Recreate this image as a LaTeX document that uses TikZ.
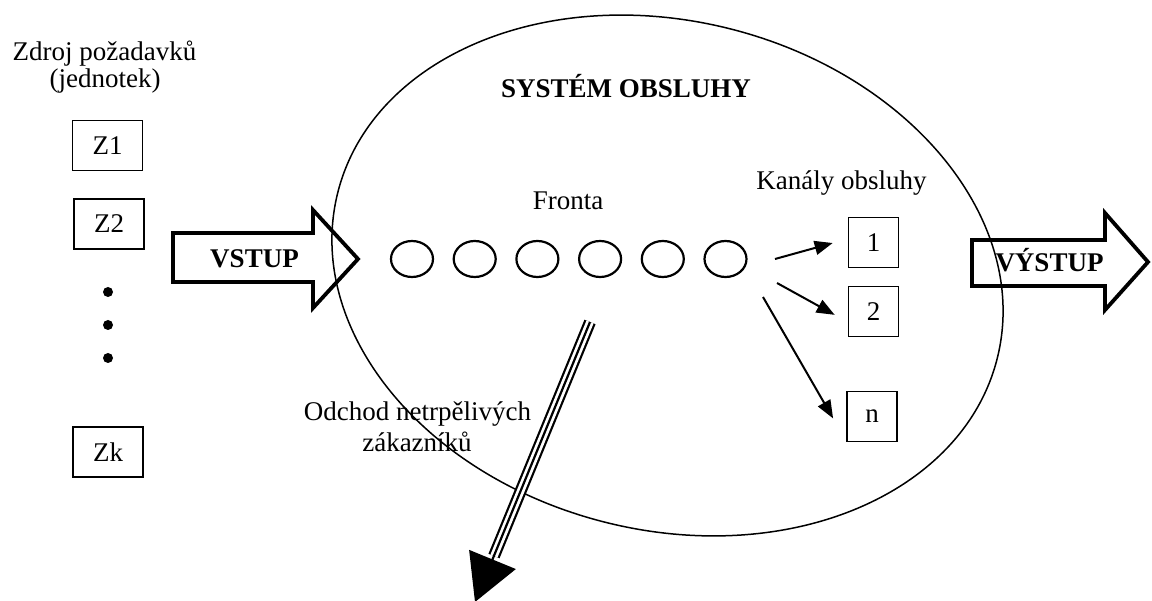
\documentclass[tikz,border=0pt]{standalone}
\usepackage{fontspec}
\setmainfont{Liberation Serif}
\usetikzlibrary{arrows.meta,shapes.geometric}

\begin{document}
\begin{tikzpicture}[x=1pt,y=-1pt,
  txt/.style={font=\fontsize{27}{32}\selectfont, inner sep=0pt, anchor=base},
  boldtxt/.style={font=\fontsize{27}{32}\selectfont\bfseries, inner sep=0pt, anchor=base},
  srcbox/.style={draw, line width=1.8pt, minimum width=70pt, minimum height=50pt,
    inner sep=0pt, font=\fontsize{27}{32}\selectfont},
  chanbox/.style={draw, line width=1.8pt, minimum width=50pt, minimum height=50pt,
    inner sep=0pt, font=\fontsize{27}{32}\selectfont},
  unit/.style={draw, ellipse, line width=2.2pt, minimum width=42pt, minimum height=36pt, inner sep=0pt},
  bigdot/.style={circle, fill, minimum size=10pt, inner sep=0pt},
  blockarrow/.style={line width=3.8pt, line join=miter},
  feed/.style={line width=2pt, -{Triangle[length=18pt,width=14pt]}},
]
\useasboundingbox (0,0) rectangle (1152,601);
\fill[white] (0,0) rectangle (1152,601);

% the service system
\node[draw, ellipse, line width=1.5pt, minimum width=680pt, minimum height=509pt,
      inner sep=0pt, rotate=-14.1] (sys) at (667.5,275.5) {};
\node[boldtxt] (systitle) at (626,98) {SYSTÉM OBSLUHY};

% source of requests
\node[txt] (srclabel) at (104.5,61) {Zdroj požadavků};
\node[txt] (srclabel2) at (105,88) {(jednotek)};
\node[srcbox] (z1) at (107.5,145.5) {Z1};
\node[srcbox] (z2) at (109,224) {Z2};
\node[bigdot] (d1) at (108,292) {};
\node[bigdot] (d2) at (108,325) {};
\node[bigdot] (d3) at (108,358) {};
\node[srcbox] (zk) at (108,452) {Zk};

% input arrow
\draw[blockarrow] (173,233) -- (313,233) -- (313,210) -- (358,259)
  -- (313,308) -- (313,282) -- (173,282) -- cycle;
\node[boldtxt] (vstup) at (254.5,268) {VSTUP};

% queue
\node[txt] (fronta) at (568,210) {Fronta};
\foreach \i in {0,...,5} {
  \node[unit] (q\i) at ({412+62.7*\i},259) {};
}

% service channels
\node[txt] (kanaly) at (841.5,190) {Kanály obsluhy};
\node[chanbox] (b1) at (873.5,242.5) {1};
\node[chanbox] (b2) at (873.5,311.5) {2};
\node[chanbox] (bn) at (872,416.5) {n};

\coordinate (f1) at (775,259);
\coordinate (f2) at (777,283);
\coordinate (fn) at (763,297);
\draw[feed, shorten >=15.5pt] (f1) -- ([yshift=3.6pt]b1.west);
\draw[feed, shorten >=14.8pt] (f2) -- ([yshift=-10.5pt]b2.west);
\draw[feed, shorten >=26pt] (fn) -- ([yshift=1.5pt]bn.south west);

% output arrow
\draw[blockarrow] (972,240) -- (1105,240) -- (1105,213) -- (1148,262)
  -- (1105,310) -- (1105,286) -- (972,286) -- cycle;
\node[boldtxt] (vystup) at (1049.5,272) {VÝSTUP};

% impatient customers leaving the queue
\node[txt] (odchod) at (417.5,421) {Odchod netrpělivých};
\node[txt] (odchod2) at (417,452) {zákazníků};
\coordinate (leaveA) at (590,322);
\coordinate (leaveB) at (494,556);
\coordinate (leaveTip) at (475,602);
\draw[line width=12pt] (leaveA) -- (leaveB);
\draw[white, line width=7.6pt] (leaveA) -- (leaveB);
\draw[line width=2.2pt, -{Triangle[length=46pt,width=50pt]}] (leaveA) -- (leaveTip);
\end{tikzpicture}
\end{document}
